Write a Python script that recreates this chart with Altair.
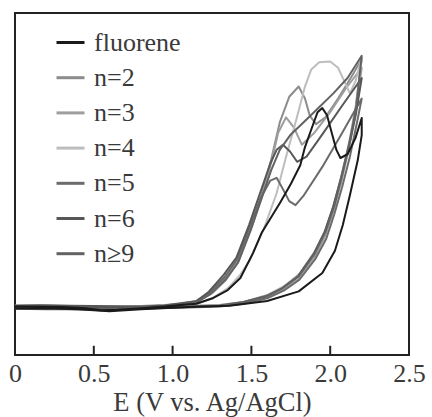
import altair as alt
import pandas as pd

# ---- data ----
series_names = ["fluorene", "n=2", "n=3", "n=4", "n=5", "n=6", "n≥9"]
series_colors = ["#1a1a1a", "#8c8c8c", "#9e9e9e", "#bdbdbd", "#6b6b6b", "#575757", "#626262"]

E_base = [0.0, 0.15, 0.3, 0.45, 0.55, 0.65, 0.8, 0.95, 1.05, 1.15]

E_fluorene = E_base + [1.25, 1.35, 1.43, 1.51, 1.567, 1.68, 1.75, 1.81, 1.84, 1.885, 1.92, 1.95, 1.98, 2.01, 2.04, 2.065, 2.11, 2.16, 2.2,
                       2.2, 2.175, 2.125, 2.08, 2.03, 1.95, 1.8, 1.6, 1.36, 1.1, 0.8, 0.6, 0.4, 0.2, 0.0]
I_fluorene = [0.2, 0.1, 0.0, -0.3, -0.9, -0.8, -0.3, 0.2, 0.6, 1.0] + \
             [2.5, 5, 8.5, 15.8, 21.9, 30.4, 36, 41.5, 46.8, 52.6, 57, 58.2, 56.1, 50.9, 45.9, 43.6, 44.7, 49.4, 55.3,
              50.3, 43, 32.7, 24, 16.5, 10, 4.6, 1.8, 0.4, 0.0, -0.6, -1.2, -0.6, -0.3, -0.4]

E_n2 = E_base + [1.24, 1.33, 1.41, 1.49, 1.565, 1.625, 1.68, 1.74, 1.80, 1.84, 1.87, 1.91, 1.97, 2.05, 2.13, 2.2,
                 2.16, 2.12, 2.07, 2.02, 1.97, 1.9, 1.8, 1.7, 1.6, 1.45, 1.3, 1.1, 0.8, 0.5, 0.2, 0.0]
I_n2 = [0.5, 0.6, 0.4, 0.2, -0.2, 0.0, 0.3, 0.6, 1.0, 1.8] + \
       [4.3, 8.5, 13.8, 23, 33, 43, 54, 61.5, 64.5, 61, 56, 53.5, 55.5, 61, 67, 72.5,
        58, 48, 38, 29.5, 22.5, 16, 9.3, 5.8, 3.4, 1.5, 0.6, 0.3, 0.0, -0.3, 0.2, 0.3]

E_n3 = E_base + [1.25, 1.34, 1.42, 1.50, 1.575, 1.63, 1.67, 1.72, 1.77, 1.82, 1.9, 2.0, 2.1, 2.2,
                 2.16, 2.12, 2.07, 2.02, 1.97, 1.9, 1.8, 1.7, 1.6, 1.45, 1.3, 1.1, 0.8, 0.5, 0.2, 0.0]
I_n3 = [0.0, -0.2, -0.2, -0.5, -0.6, -0.4, 0.0, 0.4, 0.8, 1.5] + \
       [4, 8, 13.5, 23, 33.5, 43, 51, 55.5, 52.5, 47.5, 51, 57, 64, 70,
        56, 46.5, 36.5, 28, 21, 14.5, 8.2, 5, 2.9, 1.2, 0.3, 0.1, -0.3, -0.8, -0.4, -0.2]

E_n4 = E_base + [1.25, 1.35, 1.43, 1.49, 1.58, 1.66, 1.72, 1.78, 1.84, 1.88, 1.93, 2.0, 2.05, 2.09, 2.125, 2.16, 2.2,
                 2.165, 2.125, 2.075, 2.025, 1.975, 1.905, 1.81, 1.71, 1.61, 1.46, 1.3, 1.1, 0.8, 0.5, 0.2, 0.0]
I_n4 = [0.3, 0.1, 0.2, 0.0, -0.4, -0.3, 0.1, 0.3, 0.5, 0.9] + \
       [2.6, 5.5, 9.5, 13.7, 23, 33.3, 44, 54, 64.5, 69.5, 71.6, 71.8, 70, 66, 62.5, 66, 73,
        59, 49, 39, 30, 23, 16.5, 10, 6.2, 3.7, 1.6, 0.6, 0.3, 0.1, 0.2, 0.3, 0.4]

E_n5 = E_base + [1.235, 1.33, 1.41, 1.49, 1.56, 1.62, 1.66, 1.7, 1.74, 1.78, 1.83, 1.95, 2.07, 2.2,
                 2.17, 2.125, 2.075, 2.025, 1.975, 1.905, 1.805, 1.705, 1.6, 1.45, 1.3, 1.1, 0.8, 0.5, 0.2, 0.0]
I_n5 = [-0.2, -0.3, -0.1, -0.6, -1.0, -0.8, -0.2, 0.3, 0.8, 1.4] + \
       [4.2, 8.8, 14, 23.5, 32, 37, 37.8, 34.5, 31, 29.8, 32.5, 41, 50.5, 61,
        54, 44, 35, 27, 20, 14, 8, 4.8, 2.6, 1.0, 0.2, -0.1, -0.4, -0.5, 0.0, 0.0]

E_n6 = E_base + [1.23, 1.325, 1.405, 1.485, 1.56, 1.62, 1.66, 1.70, 1.745, 1.79, 1.85, 1.95, 2.07, 2.2,
                 2.165, 2.12, 2.07, 2.02, 1.965, 1.895, 1.795, 1.695, 1.595, 1.445, 1.3, 1.1, 0.8, 0.5, 0.2, 0.0]
I_n6 = [0.1, 0.2, 0.3, 0.1, -0.3, -0.1, 0.2, 0.5, 1.1, 1.7] + \
       [4.5, 9.5, 14.5, 24, 34, 42, 46, 47.5, 45.5, 42.5, 44, 50.5, 58.5, 67,
        57, 47.5, 38, 29.5, 22, 15.5, 9, 5.5, 3.2, 1.4, 0.5, 0.2, 0.2, 0.3, 0.5, 0.4]

E_n9 = E_base + [1.24, 1.335, 1.415, 1.495, 1.57, 1.625, 1.68, 1.75, 1.83, 1.92, 2.02, 2.11, 2.2,
                 2.165, 2.125, 2.075, 2.025, 1.97, 1.9, 1.8, 1.7, 1.6, 1.45, 1.3, 1.1, 0.8, 0.5, 0.2, 0.0]
I_n9 = [-0.5, -0.4, -0.3, -0.2, -0.8, -0.6, -0.1, 0.2, 0.7, 1.3] + \
       [3.8, 8, 13, 22.5, 32.5, 40, 46, 50.5, 54, 58, 62.5, 67, 73.5,
        58.5, 48.5, 38.5, 29.5, 22, 15.5, 9, 5.6, 3.3, 1.4, 0.4, 0.0, -0.4, -0.6, -0.6, -0.5]

tick_values = [0.5, 1.0, 1.5, 2.0]
label_values = [0, 0.5, 1.0, 1.5, 2.0, 2.5]

# ---- build table ----
curves = {
    "fluorene": (E_fluorene, I_fluorene),
    "n=2": (E_n2, I_n2),
    "n=3": (E_n3, I_n3),
    "n=4": (E_n4, I_n4),
    "n=5": (E_n5, I_n5),
    "n=6": (E_n6, I_n6),
    "n≥9": (E_n9, I_n9),
}
rows = []
for name, (es, cs) in curves.items():
    for k, (e, c) in enumerate(zip(es, cs)):
        rows.append({"series": name, "E": e, "I": c, "idx": k})
df = pd.DataFrame(rows)

FONT = "Liberation Serif"
Y_MIN, Y_MAX = -14, 86
xscale = alt.Scale(domain=[0, 2.5], nice=False, zero=False)
yscale = alt.Scale(domain=[Y_MIN, Y_MAX], nice=False, zero=False)

color = alt.Color(
    "series:N",
    scale=alt.Scale(domain=series_names, range=series_colors),
    legend=alt.Legend(
        title=None, orient="none", legendX=40, legendY=14, direction="vertical",
        symbolType="stroke", symbolSize=784, symbolStrokeWidth=3,
        labelFont=FONT, labelFontSize=26, labelColor="#3a3a3a",
        labelOffset=8, rowPadding=6.2, padding=0,
    ),
)

xaxis = alt.Axis(
    values=label_values, labelExpr="datum.value == 0 ? '0' : format(datum.value, '.1f')",
    ticks=False, domain=False, grid=False, labelFont=FONT, labelFontSize=26,
    labelColor="#3a3a3a", labelPadding=5, title="E (V vs. Ag/AgCl)",
    titleFont=FONT, titleFontSize=26.5, titleFontWeight="normal", titleColor="#3a3a3a",
    titlePadding=3, labelFlush=False,
)

grey = alt.Chart(df[df.series != "fluorene"]).mark_line(strokeWidth=2, strokeJoin="round").encode(
    x=alt.X("E:Q", scale=xscale, axis=xaxis),
    y=alt.Y("I:Q", scale=yscale, axis=None),
    color=color,
    order=alt.Order("idx:Q"),
)
black = alt.Chart(df[df.series == "fluorene"]).mark_line(strokeWidth=2, strokeJoin="round").encode(
    x=alt.X("E:Q", scale=xscale),
    y=alt.Y("I:Q", scale=yscale),
    color=color,
    order=alt.Order("idx:Q"),
)

ticks_df = pd.DataFrame({"E": tick_values, "y0": [Y_MIN] * len(tick_values), "y1": [Y_MIN + 2.7] * len(tick_values)})
ticks = alt.Chart(ticks_df).mark_rule(color="#222", strokeWidth=2).encode(
    x=alt.X("E:Q", scale=xscale), y=alt.Y("y0:Q", scale=yscale), y2="y1:Q"
)

chart = alt.layer(grey, black, ticks).properties(
    width=394, height=342,
    autosize=alt.AutoSizeParams(type="none"),
    padding={"left": 15, "top": 13, "right": 23, "bottom": 62},
    background="white",
).configure(font=FONT).configure_view(stroke="#222", strokeWidth=2).configure_legend(
    labelFont=FONT
).configure_axis(labelFont=FONT, titleFont=FONT)

chart.save("out.html", embed_options={"renderer": "svg", "actions": False})
